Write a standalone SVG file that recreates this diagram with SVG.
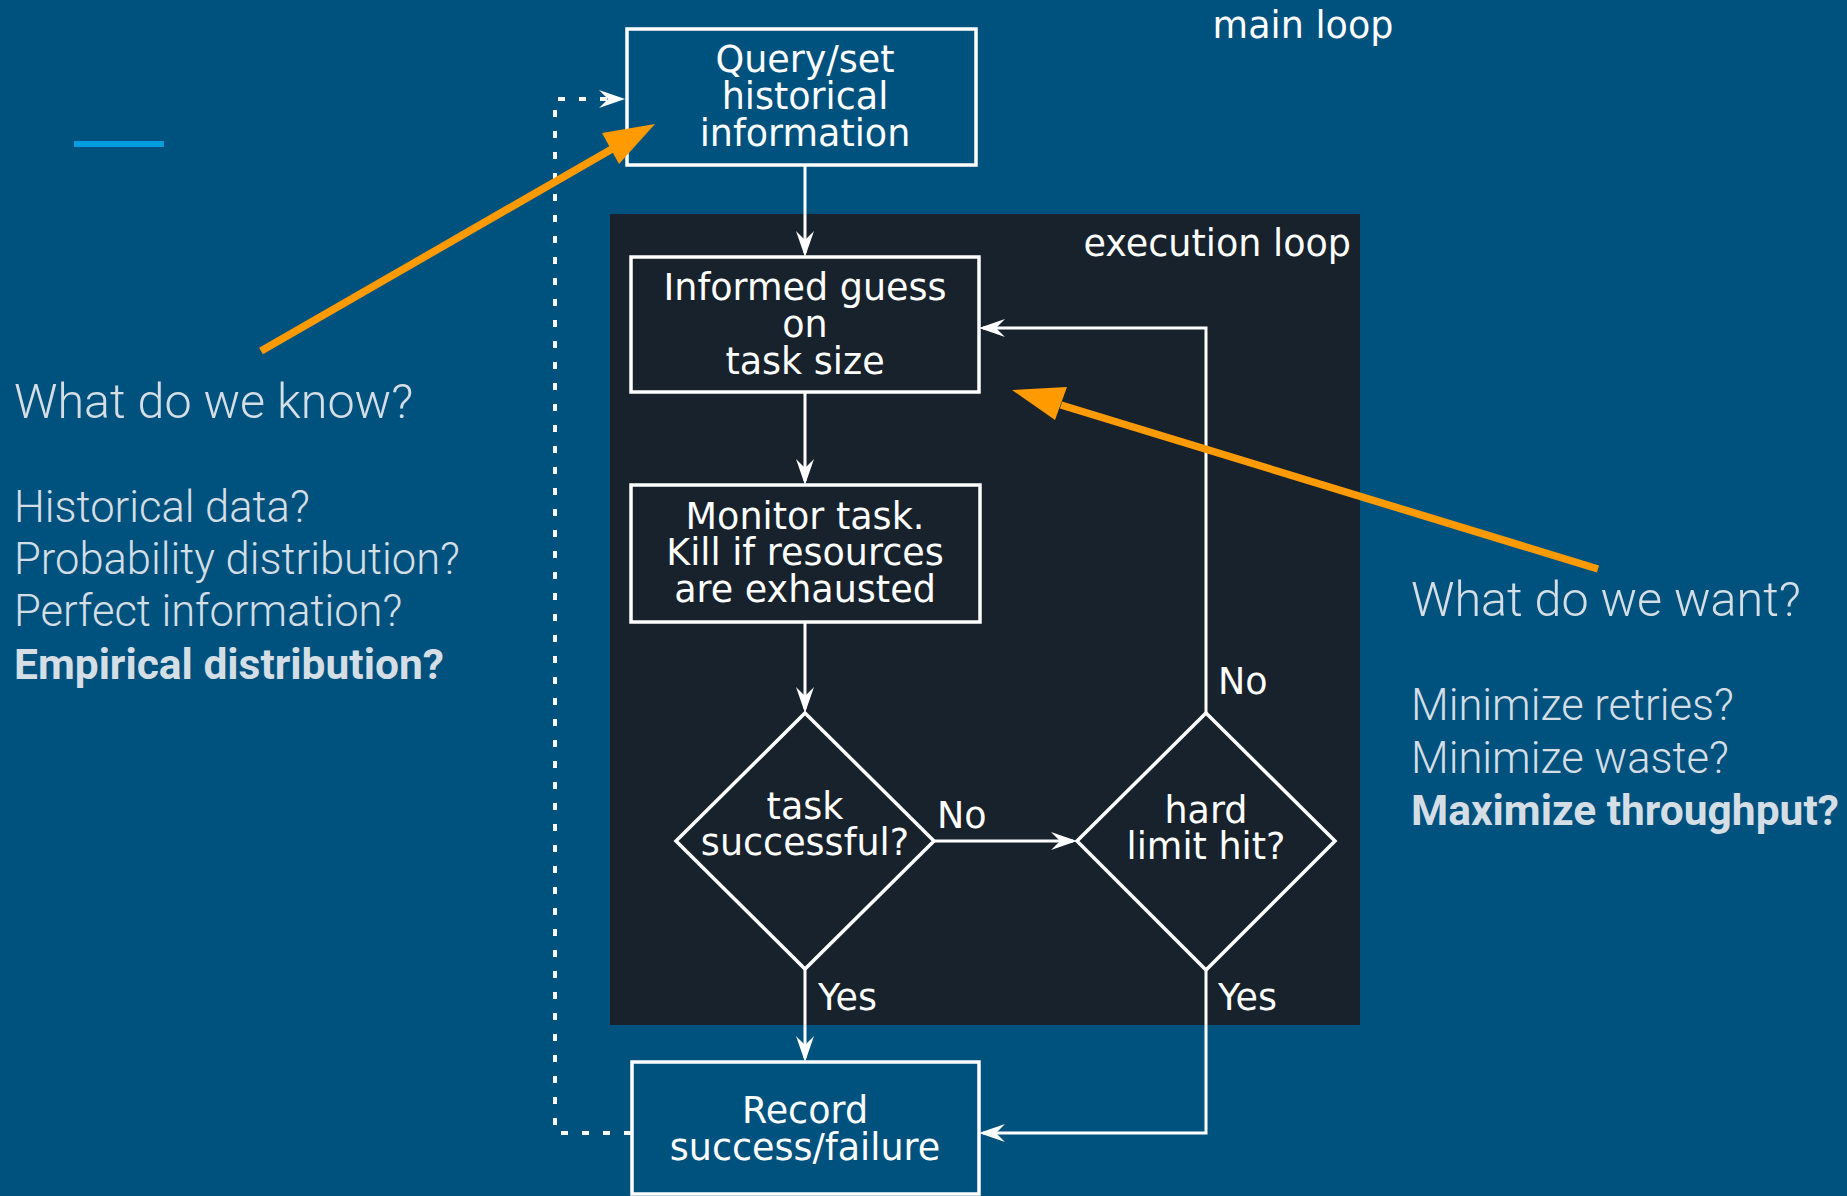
<svg xmlns="http://www.w3.org/2000/svg" width="1847" height="1196" viewBox="0 0 1847 1196">
  <style>
    .node { fill: none; stroke: #ffffff; stroke-width: 3.5; }
    .lbl { font-family: "DejaVu Sans", sans-serif; font-size: 36.5px; fill: #ffffff; }
    .mid { text-anchor: middle; }
    .wire { fill: none; stroke: #ffffff; stroke-width: 3; }
    .dots { fill: none; stroke: #ffffff; stroke-width: 4; stroke-dasharray: 7 14; }
    .note { font-family: Roboto, "Liberation Sans", sans-serif; fill: #d5dee5; }
    .head { font-size: 48.5px; font-weight: 300; }
    .item { font-size: 43.5px; font-weight: 300; }
    .strong { font-size: 42.5px; font-weight: 700; }
    .pointer { stroke: #ff9a00; stroke-width: 7.5; fill: none; }
  </style>
  <defs>
    <marker id="arr" markerUnits="userSpaceOnUse" viewBox="-27 -10 32 20" markerWidth="32" markerHeight="20" refX="-4" refY="0" orient="auto">
      <path d="M0,0 L-26,-9 L-17,0 L-26,9 Z" fill="#ffffff"/>
    </marker>
  </defs>

  <!-- backdrop -->
  <rect x="0" y="0" width="1847" height="1196" fill="#00527e"/>
  <rect x="74" y="141" width="90" height="6" fill="#009ddf"/>

  <!-- execution loop panel -->
  <g id="execution-loop">
    <rect x="610" y="214" width="750" height="811" fill="#17222c"/>
    <text class="lbl" x="1351" y="256" text-anchor="end">execution loop</text>
  </g>
  <g id="main-loop">
    <text class="lbl mid" x="1303" y="38">main loop</text>
  </g>

  <!-- connectors -->
  <g id="connectors">
    <path class="wire" d="M805,165 V253" marker-end="url(#arr)"/>
    <path class="wire" d="M805,392 V481" marker-end="url(#arr)"/>
    <path class="wire" d="M805,622 V709" marker-end="url(#arr)"/>
    <path class="wire" d="M805,969 V1058" marker-end="url(#arr)"/>
    <path class="wire" d="M934,841 H1073" marker-end="url(#arr)"/>
    <path class="wire" d="M1206,713 V328 H983" marker-end="url(#arr)"/>
    <path class="wire" d="M1206,970 V1133 H983" marker-end="url(#arr)"/>
    <path class="dots" d="M631,1133 H555 V99 H621" marker-end="url(#arr)"/>
    <text class="lbl" x="937" y="828">No</text>
    <text class="lbl" x="1218" y="694">No</text>
    <text class="lbl" x="818" y="1010">Yes</text>
    <text class="lbl" x="1218" y="1010">Yes</text>
  </g>

  <!-- nodes -->
  <g id="query">
    <rect class="node" x="627" y="29" width="349" height="136"/>
    <text class="lbl mid" x="805" y="72">Query/set</text>
    <text class="lbl mid" x="805" y="109">historical</text>
    <text class="lbl mid" x="805" y="146">information</text>
  </g>
  <g id="guess">
    <rect class="node" x="631" y="257" width="348" height="135"/>
    <text class="lbl mid" x="805" y="300">Informed guess</text>
    <text class="lbl mid" x="805" y="337">on</text>
    <text class="lbl mid" x="805" y="374">task size</text>
  </g>
  <g id="monitor">
    <rect class="node" x="631" y="485" width="349" height="137"/>
    <text class="lbl mid" x="805" y="529">Monitor task.</text>
    <text class="lbl mid" x="805" y="565">Kill if resources</text>
    <text class="lbl mid" x="805" y="602">are exhausted</text>
  </g>
  <g id="success">
    <polygon class="node" points="805,713 934,841 805,969 676,841"/>
    <text class="lbl mid" x="805" y="819">task</text>
    <text class="lbl mid" x="805" y="855">successful?</text>
  </g>
  <g id="limit">
    <polygon class="node" points="1206,713 1335,841 1206,970 1077,841"/>
    <text class="lbl mid" x="1206" y="823">hard</text>
    <text class="lbl mid" x="1206" y="859">limit hit?</text>
  </g>
  <g id="record">
    <rect class="node" x="632" y="1062" width="347" height="132"/>
    <text class="lbl mid" x="805" y="1123">Record</text>
    <text class="lbl mid" x="805" y="1160">success/failure</text>
  </g>

  <!-- side questions -->
  <g id="know">
    <text class="note head" x="14" y="418">What do we know?</text>
    <text class="note item" x="14" y="522">Historical data?</text>
    <text class="note item" x="14" y="574">Probability distribution?</text>
    <text class="note item" x="14" y="626">Perfect information?</text>
    <text class="note strong" x="14" y="679">Empirical distribution?</text>
  </g>
  <g id="want">
    <text class="note head" x="1411" y="616">What do we want?</text>
    <text class="note item" x="1411" y="720">Minimize retries?</text>
    <text class="note item" x="1411" y="773">Minimize waste?</text>
    <text class="note strong" x="1411" y="825">Maximize throughput?</text>
  </g>

  <!-- orange pointers -->
  <g id="pointers">
    <line class="pointer" x1="261" y1="351" x2="612" y2="149"/>
    <polygon points="655,124 602,133 619,164" fill="#ff9a00"/>
    <line class="pointer" x1="1598" y1="569" x2="1061" y2="405"/>
    <polygon points="1012,390 1067,387 1055,420" fill="#ff9a00"/>
  </g>
</svg>
